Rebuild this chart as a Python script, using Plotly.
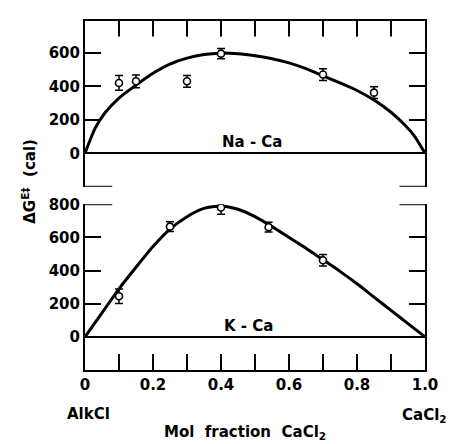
import plotly.graph_objects as go

# ---- data ----
# Na-Ca (upper panel)
na_pts_x = [0.10, 0.15, 0.30, 0.40, 0.70, 0.85]
na_pts_y = [420, 430, 430, 595, 470, 362]
na_err = [44, 38, 35, 30, 35, 35]
na_curve_x = [0, 0.03, 0.06, 0.10, 0.15, 0.20, 0.25, 0.30, 0.35, 0.40, 0.45, 0.50,
              0.55, 0.60, 0.65, 0.70, 0.75, 0.80, 0.85, 0.90, 0.94, 0.97, 1.0]
na_curve_y = [0, 150, 245, 330, 407, 478, 533, 568, 590, 598, 594, 582,
              565, 540, 505, 462, 420, 375, 318, 245, 170, 100, 0]

# K-Ca (lower panel)
k_pts_x = [0.10, 0.25, 0.40, 0.54, 0.70]
k_pts_y = [245, 665, 780, 662, 462]
k_err = [44, 30, 40, 30, 35]
k_curve_x = [0, 0.05, 0.10, 0.15, 0.20, 0.25, 0.30, 0.35, 0.40, 0.45, 0.50, 0.55,
             0.60, 0.65, 0.70, 0.75, 0.80, 0.85, 0.90, 0.95, 1.0]
k_curve_y = [0, 145, 290, 420, 545, 650, 725, 775, 790, 770, 725, 665,
             600, 535, 465, 395, 320, 240, 160, 80, 0]

x_tickvals = [0, 0.1, 0.2, 0.3, 0.4, 0.5, 0.6, 0.7, 0.8, 0.9, 1.0]
x_ticktext = ["0", "", "0.2", "", "0.4", "", "0.6", "", "0.8", "", "1.0"]
y_top_ticks = [0, 200, 400, 600]
y_bot_ticks = [0, 200, 400, 600, 800]
y_top_range = [-200, 790]

FONT = "DejaVu Sans"
fnt = dict(family=FONT, size=15, color="black", weight="bold")

fig = go.Figure()

# upper panel (x2, y2)
fig.add_trace(go.Scatter(x=na_curve_x, y=na_curve_y, mode="lines",
                         line=dict(color="black", width=3, shape="spline", smoothing=0.6),
                         xaxis="x2", yaxis="y2", showlegend=False, hoverinfo="skip"))
fig.add_trace(go.Scatter(x=na_pts_x, y=na_pts_y, mode="markers",
                         marker=dict(symbol="circle", size=7, color="white",
                                     line=dict(color="black", width=1.6)),
                         error_y=dict(type="data", array=na_err, color="black",
                                      thickness=1.5, width=4),
                         xaxis="x2", yaxis="y2", showlegend=False))

# lower panel (x, y)
fig.add_trace(go.Scatter(x=k_curve_x, y=k_curve_y, mode="lines",
                         line=dict(color="black", width=3, shape="spline", smoothing=0.6),
                         xaxis="x", yaxis="y", showlegend=False, hoverinfo="skip"))
fig.add_trace(go.Scatter(x=k_pts_x, y=k_pts_y, mode="markers",
                         marker=dict(symbol="circle", size=7, color="white",
                                     line=dict(color="black", width=1.6)),
                         error_y=dict(type="data", array=k_err, color="black",
                                      thickness=1.5, width=4),
                         xaxis="x", yaxis="y", showlegend=False))

common = dict(showgrid=False, showline=True, linecolor="black", linewidth=2,
              tickmode="array", ticks="inside", ticklen=16, tickwidth=2,
              tickcolor="black", tickfont=fnt)

fig.update_layout(
    width=450, height=444,
    margin=dict(l=85, r=25, t=12, b=74),
    paper_bgcolor="white", plot_bgcolor="white",
    font=fnt,
    xaxis=dict(domain=[0, 1], anchor="y", range=[0, 1], zeroline=False,
               tickvals=x_tickvals, ticktext=x_ticktext, **common),
    yaxis=dict(domain=[0, 0.4749], range=[-200, 800], anchor="x", mirror="ticks",
               tickvals=y_bot_ticks, zeroline=True, zerolinecolor="black",
               zerolinewidth=1.5, **common),
    xaxis2=dict(domain=[0, 1], anchor="y2", side="top", range=[0, 1], zeroline=False,
                showgrid=False, showline=True, linecolor="black", linewidth=2,
                showticklabels=False),
    yaxis2=dict(domain=[0.5251, 1], range=y_top_range, anchor="x2", mirror="ticks",
                tickvals=y_top_ticks, zeroline=True, zerolinecolor="black",
                zerolinewidth=1.5, **common),
)

# inward ticks on the top border of the upper panel (x2 / y2 scales)
top_tick_len = 16 * (y_top_range[1] - y_top_range[0]) / 170
stub = dict(type="line", line=dict(color="black", width=2))
for xv in x_tickvals[1:-1]:
    fig.add_shape(xref="x2", yref="y2", x0=xv, x1=xv,
                  y0=y_top_range[1] - top_tick_len, y1=y_top_range[1], **stub)

# corner stubs (longer end ticks)
for yref, yv in (("y2", -200), ("y", 800)):
    fig.add_shape(xref="x domain", yref=yref, x0=0, x1=0.08, y0=yv, y1=yv, **stub)
    fig.add_shape(xref="x domain", yref=yref, x0=0.925, x1=1, y0=yv, y1=yv, **stub)

anns = [
    dict(x=0.49, y=0, xref="x2", yref="y2", text="Na - Ca", showarrow=False,
         xanchor="center", yanchor="bottom", font=fnt),
    dict(x=0.48, y=0, xref="x", yref="y", text="K - Ca", showarrow=False,
         xanchor="center", yanchor="bottom", font=fnt),
    dict(x=-0.06, y=-0.125, xref="paper", yref="paper", text="AlkCl", showarrow=False,
         xanchor="left", yanchor="middle", font=fnt),
    dict(x=1.07, y=-0.13, xref="paper", yref="paper", text="CaCl<sub>2</sub>",
         showarrow=False, xanchor="right", yanchor="middle", font=fnt),
    dict(x=0.47, y=-0.18, xref="paper", yref="paper",
         text="Mol  fraction  CaCl<sub>2</sub>", showarrow=False,
         xanchor="center", yanchor="middle", font=fnt),
    dict(x=-0.165, y=0.542, xref="paper", yref="paper",
         text="ΔG<sup>E‡</sup>  (cal)", showarrow=False, textangle=-90,
         xanchor="center", yanchor="middle", font=fnt),
]
fig.update_layout(annotations=anns)

fig.write_html("out.html")
